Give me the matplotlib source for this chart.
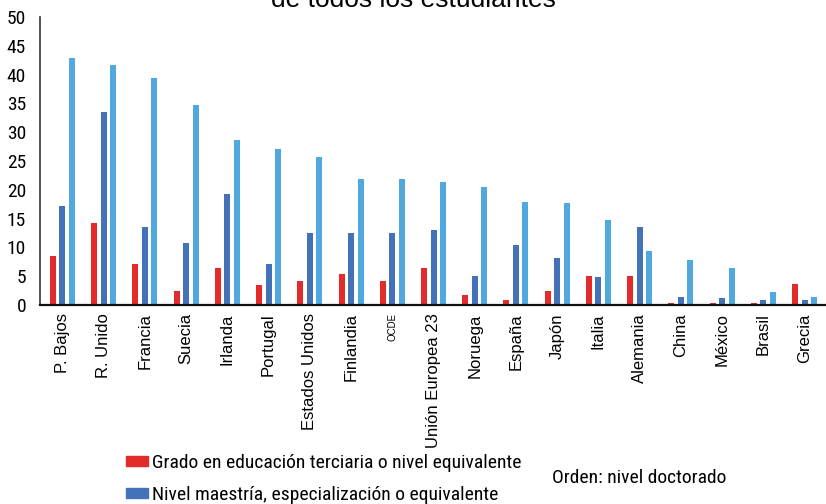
import matplotlib

matplotlib.use("Agg")
import matplotlib.pyplot as plt
from matplotlib.patches import Patch
from matplotlib import font_manager
import numpy as np

countries = ["P. Bajos", "R. Unido", "Francia", "Suecia", "Irlanda", "Portugal",
             "Estados Unidos", "Finlandia", "OCDE", "Unión Europea 23", "Noruega",
             "España", "Japón", "Italia", "Alemania", "China", "México", "Brasil", "Grecia"]
grado = [8.5, 14.2, 7.1, 2.4, 6.4, 3.5, 4.2, 5.4, 4.2, 6.4, 1.7, 0.9, 2.4, 5.0, 5.0,
         0.35, 0.35, 0.35, 3.6]
maestria = [17.2, 33.5, 13.5, 10.8, 19.3, 7.1, 12.5, 12.5, 12.5, 13.0, 5.0, 10.4, 8.1,
            4.9, 13.5, 1.4, 1.2, 0.9, 0.9]
doctorado = [42.8, 41.6, 39.4, 34.7, 28.6, 27.1, 25.7, 21.9, 21.9, 21.3, 20.5, 17.9,
             17.7, 14.7, 9.4, 7.8, 6.4, 2.3, 1.4]
series_labels = ["Grado en educación terciaria o nivel equivalente",
                 "Nivel maestría, especialización o equivalente",
                 "Nivel doctorado o equivalente"]
yticks = [0, 5, 10, 15, 20, 25, 30, 35, 40, 45, 50]

RED, DARK, LIGHT = "#E32B2B", "#4472B8", "#4FA8DE"

# condensed face for the numbers and the legend, if one is installed
names = {f.name for f in font_manager.fontManager.ttflist}
NARROW = None
for cand in ["Liberation Sans Narrow", "DejaVu Sans Condensed", "Roboto Condensed",
             "Open Sans Condensed"]:
    if cand in names:
        NARROW = cand
        break
narrow = font_manager.FontProperties(family=NARROW or "DejaVu Sans", stretch="condensed")

fig = plt.figure(figsize=(8.26, 5.04), dpi=100)
ax = fig.add_axes([40 / 826, 1 - 305 / 504, 1 - 40 / 826, 288 / 504])

x = np.arange(len(countries))
w, step = 0.145, 0.23
ax.bar(x - step, grado, w, color=RED)
ax.bar(x, maestria, w, color=DARK)
ax.bar(x + step, doctorado, w, color=LIGHT)

ax.set_xlim(-0.545, len(countries) - 0.48)
ax.set_ylim(0, 50)
ax.set_yticks(yticks)
ax.set_yticklabels([str(v) for v in yticks], fontproperties=narrow, fontsize=14)
ax.tick_params(axis="y", length=0, pad=10)
ax.set_xticks(x)
ax.set_xticklabels(countries, rotation=90, fontsize=12, family="Liberation Sans")
ax.get_xticklabels()[8].set_fontsize(7)
ax.tick_params(axis="x", length=0, pad=6)
for s in ["top", "right"]:
    ax.spines[s].set_visible(False)
ax.spines["left"].set_color("#333333")
ax.spines["bottom"].set_color("#111111")
ax.spines["left"].set_linewidth(1.2)
ax.spines["bottom"].set_linewidth(1.6)

fig.text(0.5, 1 - 7 / 504, "de todos los estudiantes", ha="center", va="baseline",
         fontsize=19, family="Liberation Sans")

leg_font = narrow.copy()
leg_font.set_size(14)
handles = [Patch(color=RED), Patch(color=DARK)]
fig.legend(handles, series_labels[:2], loc="upper left",
           bbox_to_anchor=(124 / 826, 1 - 452 / 504), frameon=False,
           prop=leg_font, handlelength=1.15, handleheight=0.45,
           handletextpad=0.2, labelspacing=0.72, borderaxespad=0, borderpad=0.1)
fig.text(552 / 826, 1 - 478 / 504, "Orden: nivel doctorado", ha="left", va="center",
         fontproperties=leg_font)

fig.savefig("out.png", dpi=100)
